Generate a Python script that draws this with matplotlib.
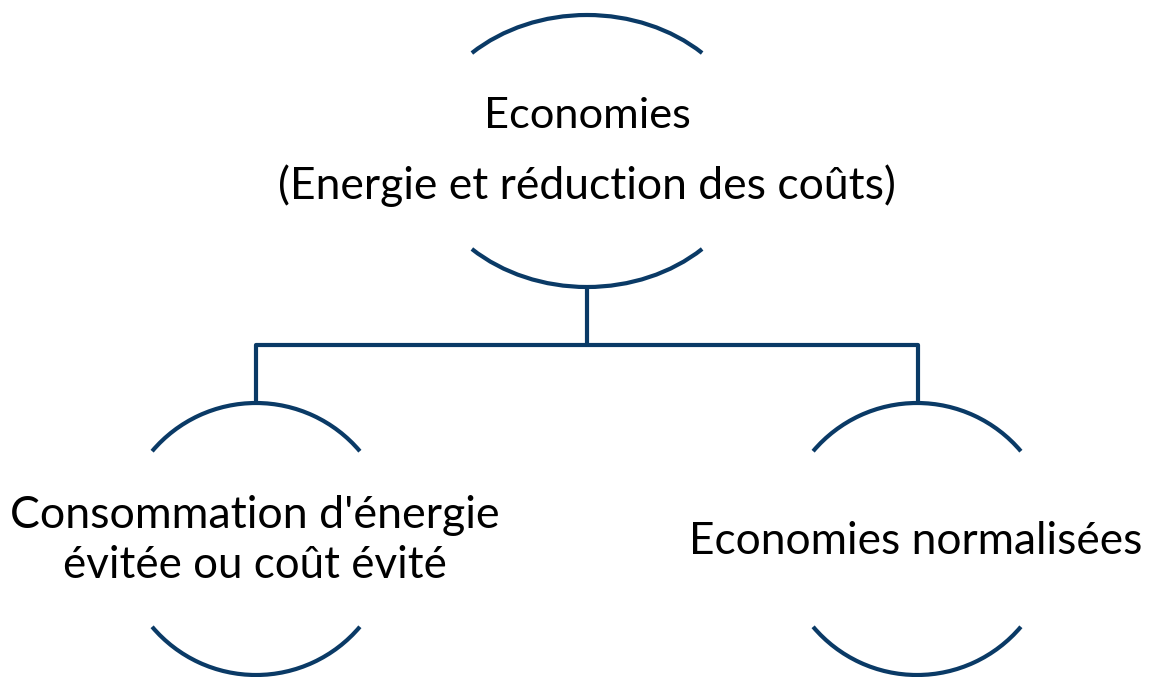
import matplotlib
matplotlib.use("Agg")
import matplotlib.pyplot as plt
from matplotlib.patches import Arc
import numpy as np

# textes des noeuds
racine = ["Economies", "(Energie et réduction des coûts)"]
gauche = ["Consommation d'énergie", "évitée ou coût évité"]
droite = ["Economies normalisées"]

BLEU = "#0a3a66"
LW = 3.0
W, H = 1149, 677

fig = plt.figure(figsize=(W / 100, H / 100), dpi=100)
ax = fig.add_axes([0, 0, 1, 1])
ax.set_xlim(0, W)
ax.set_ylim(H, 0)
ax.axis("off")


def noeud(cx, cy, larg, haut, demi_angle):
    """
    Deux arcs d'ellipse (haut et bas) autour du texte
    """
    # y vers le bas -> angles inverses
    ax.add_patch(Arc((cx, cy), larg, haut, theta1=270 - demi_angle, theta2=270 + demi_angle,
                     color=BLEU, lw=LW, capstyle="butt"))
    ax.add_patch(Arc((cx, cy), larg, haut, theta1=90 - demi_angle, theta2=90 + demi_angle,
                     color=BLEU, lw=LW, capstyle="butt"))


def texte(x, y, s, largeur_cible):
    t = ax.text(x, y, s, ha="center", va="center", fontsize=30,
                family=["Lato", "DejaVu Sans"], color="black")
    fig.canvas.draw()
    bb = t.get_window_extent()
    t.set_fontsize(30 * largeur_cible / bb.width)
    return t


# noeud racine
noeud(587, 151, 332, 272, 49.6)
# noeuds enfants
noeud(256, 539, 272, 272, 49.8)
noeud(917, 539, 272, 272, 49.8)

# liaisons
ax.plot([587, 587], [287, 345], color=BLEU, lw=LW, solid_capstyle="butt")
ax.plot([256, 256, 918, 918], [403, 345, 345, 403], color=BLEU, lw=LW,
        solid_joinstyle="round", solid_capstyle="butt")

texte(587, 116, racine[0], 207)
texte(587, 186, racine[1], 617)
texte(255, 516, gauche[0], 490)
texte(255, 566, gauche[1], 382)
texte(916, 541, droite[0], 453)

fig.savefig("out.png", dpi=100, facecolor="white")
